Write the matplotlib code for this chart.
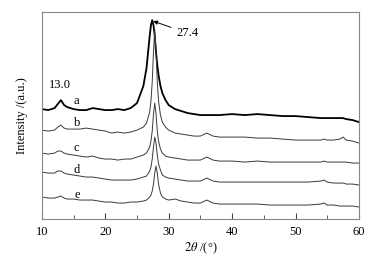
import numpy as np
import matplotlib
matplotlib.use("Agg")
import matplotlib.pyplot as plt
from matplotlib.ticker import MultipleLocator

plt.rcParams['font.family'] = ['Liberation Serif', 'DejaVu Serif']
plt.rcParams['mathtext.fontset'] = 'stix'

# 2theta grid (deg)
two_theta = [10, 11, 12, 12.5, 13, 13.5, 14, 15, 16, 17, 18, 19, 20, 21, 22, 23, 24, 25,
             26, 26.5, 27, 27.2, 27.4, 27.6, 27.8, 28, 28.2, 28.4, 28.7, 29, 29.5, 30,
             31, 32, 33, 34, 35, 36, 37, 38, 40, 42, 44, 46, 48, 50, 52, 54, 54.5, 55,
             56, 57, 57.5, 58, 59, 60]

# intensities (a.u., already stacked)
int_a = [110, 109, 111, 115, 119, 114, 112, 110, 109, 109, 111, 110, 109, 109, 110, 109, 111, 116,
         133, 151, 183, 194, 199, 194, 183, 167, 154, 144, 133, 126, 119, 114,
         110, 108, 106, 105, 104, 104, 104, 104, 105, 104, 105, 104, 103, 103, 102, 101, 101, 101,
         101, 101, 101, 100, 99, 97]
int_b = [89, 88, 89, 92, 94, 91, 90, 90, 90, 91, 90, 89, 88, 86, 87, 86, 87, 89,
         92, 96, 107, 118, 137, 168, 189, 168, 137, 118, 104, 97, 92, 89,
         86, 85, 84, 83, 83, 86, 83, 82, 82, 82, 81, 81, 80, 79, 79, 79, 80, 79,
         79, 80, 82, 79, 78, 76]
int_c = [66, 65, 66, 68, 68, 66, 65, 64, 63, 62, 63, 61, 60, 60, 59, 60, 60, 62,
         64, 66, 72, 78, 88, 105, 116, 105, 88, 78, 70, 66, 63, 62,
         61, 60, 59, 59, 59, 62, 59, 58, 58, 57, 58, 57, 57, 57, 57, 57, 58, 57,
         57, 57, 57, 57, 56, 56]
int_d = [47, 46, 46, 48, 48, 46, 45, 44, 43, 42, 42, 41, 40, 39, 39, 39, 39, 40,
         42, 43, 48, 52, 60, 72, 82, 76, 64, 55, 49, 44, 42, 41,
         40, 39, 38, 38, 38, 41, 38, 37, 37, 37, 37, 37, 37, 37, 37, 38, 39, 37,
         36, 36, 36, 35, 35, 34]
int_e = [22, 21, 21, 22, 23, 21, 20, 20, 19, 19, 19, 18, 17, 17, 16, 16, 17, 17,
         18, 19, 22, 24, 28, 35, 46, 53, 46, 35, 26, 22, 20, 19,
         20, 18, 17, 16, 16, 19, 16, 15, 15, 15, 15, 14, 14, 14, 14, 15, 16, 14,
         14, 13, 13, 13, 13, 12]

labels = ['a', 'b', 'c', 'd', 'e']
label_y = [118, 96, 71, 49, 24]

fig = plt.figure(figsize=(3.88, 2.58), dpi=100)
ax = fig.add_axes([0.108, 0.151, 0.817, 0.802])

ax.plot(two_theta, int_a, color='black', lw=1.3)
for yy in [int_b, int_c, int_d, int_e]:
    ax.plot(two_theta, yy, color='#3a3a3a', lw=0.7)

for lab, ly in zip(labels, label_y):
    ax.text(15.5, ly, lab, fontsize=9, ha='center', va='center')

ax.text(12.9, 134, '13.0', fontsize=9, ha='center', va='center')
ax.annotate('27.4', xy=(27.55, 198), xytext=(31.2, 186), fontsize=9,
            ha='left', va='center',
            arrowprops=dict(arrowstyle='-|>', color='black', lw=0.7,
                            mutation_scale=6, shrinkA=2, shrinkB=0))

ax.set_xlim(10, 60)
ax.set_ylim(0, 207)
ax.set_yticks([])
ax.xaxis.set_major_locator(MultipleLocator(10))
ax.xaxis.set_minor_locator(MultipleLocator(5))
ax.tick_params(axis='x', which='both', direction='in', top=False, labelsize=9,
               color='#444444', pad=5)
ax.tick_params(axis='x', which='major', length=4)
ax.tick_params(axis='x', which='minor', length=3)
for sp in ax.spines.values():
    sp.set_color('#888888')
    sp.set_linewidth(0.8)

ax.set_xlabel(r'$2\theta$ /(°)', fontsize=9, labelpad=2)
ax.set_ylabel('Intensity /(a.u.)', fontsize=9, labelpad=10)

fig.savefig('out.png', dpi=100)
